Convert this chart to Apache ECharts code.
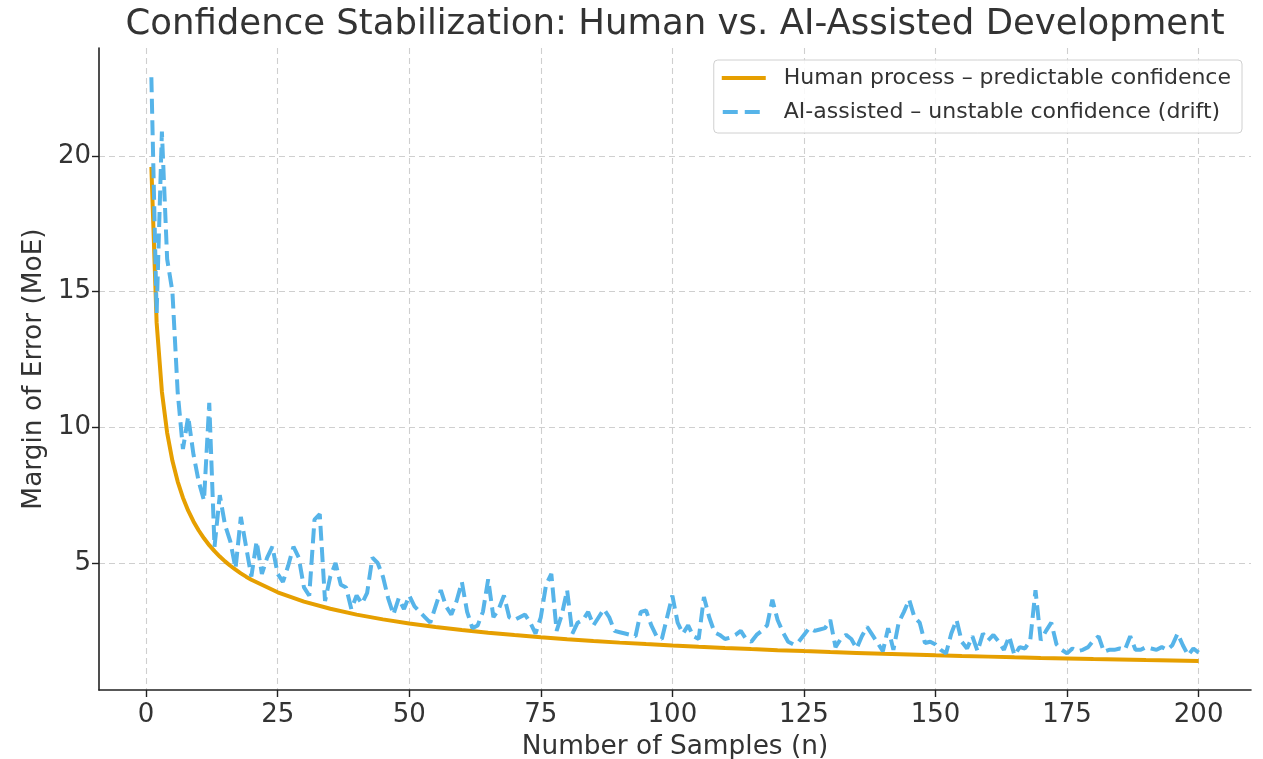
<!DOCTYPE html>
<html>
<head>
<meta charset="utf-8">
<script src="https://cdn.jsdelivr.net/npm/echarts@6/dist/echarts.min.js"></script>
<style>
html,body{margin:0;padding:0;background:#fff;}
#chart{width:1263px;height:759px;}
</style>
</head>
<body>
<div id="chart"></div>
<script>
// ---- data ----
const titleText = 'Confidence Stabilization: Human vs. AI-Assisted Development';
const xAxisTitle = 'Number of Samples (n)';
const yAxisTitle = 'Margin of Error (MoE)';
const humanName = 'Human process \u2013 predictable confidence';
const aiName = 'AI-assisted \u2013 unstable confidence (drift)';

const xTicks = [0, 25, 50, 75, 100, 125, 150, 175, 200];
const yTicks = [5, 10, 15, 20];

// Human process: sample count and margin of error
const humanN = [1,2,3,4,5,6,7,8,9,10,11,12,13,14,15,16,17,18,19,20,
  25,30,35,40,45,50,55,60,65,70,75,80,85,90,95,100,105,110,115,120,
  125,130,135,140,145,150,155,160,165,170,175,180,185,190,195,200];
const humanMoE = [19.6,13.859,11.316,9.8,8.765,8.002,7.408,6.93,6.533,6.198,
  5.91,5.658,5.436,5.238,5.061,4.9,4.754,4.62,4.497,4.383,
  3.92,3.578,3.313,3.099,2.922,2.772,2.643,2.53,2.431,2.343,
  2.263,2.191,2.126,2.066,2.011,1.96,1.913,1.869,1.828,1.789,
  1.753,1.719,1.687,1.656,1.628,1.6,1.574,1.55,1.526,1.503,
  1.482,1.461,1.441,1.422,1.404,1.386];

// AI-assisted: one value per sample n = 1..200
const aiMoE = [
  22.9,14.2,20.9,16.2,15.0,11.3,9.2,10.4,9.0,8.0,
  7.3,10.9,5.6,7.5,6.4,5.8,4.8,6.7,5.6,4.5,
  5.8,4.6,5.2,5.6,4.6,4.3,4.9,5.6,5.2,4.1,
  3.8,6.6,6.8,3.6,4.5,5.0,4.2,4.1,3.3,3.8,
  3.5,3.9,5.2,5.0,4.5,3.7,3.1,3.7,3.3,3.8,
  3.4,3.2,3.0,2.8,3.4,4.0,3.4,3.1,3.6,4.3,
  3.2,2.6,2.7,3.2,4.4,3.0,3.3,3.8,3.0,2.9,
  3.0,3.1,2.8,2.4,3.0,4.2,4.6,2.5,3.1,4.0,
  2.4,2.8,2.9,3.2,2.7,3.0,3.3,3.0,2.5,2.45,
  2.4,2.35,2.3,3.2,3.25,2.7,2.3,2.2,3.0,3.8,
  2.8,2.4,2.7,2.3,2.2,3.75,3.0,2.45,2.35,2.2,
  2.25,2.35,2.5,2.2,2.1,2.35,2.5,2.7,3.65,2.9,
  2.45,2.1,2.0,2.1,2.35,2.6,2.5,2.55,2.6,2.9,
  1.9,2.2,2.35,2.2,1.85,2.3,2.65,2.35,2.05,1.75,
  2.6,1.8,2.8,3.2,3.65,3.0,2.8,2.05,2.1,2.0,
  1.8,1.67,2.4,2.9,2.1,1.85,2.3,1.75,2.4,2.15,
  2.35,2.1,1.8,2.3,1.6,1.9,1.85,2.15,4.0,2.15,
  2.5,2.8,2.0,1.8,1.67,1.85,1.75,1.8,1.9,2.15,
  2.3,1.73,1.8,1.8,1.85,1.8,2.3,1.8,1.8,1.9,
  1.85,1.8,1.9,1.8,1.97,2.4,1.97,1.6,1.85,1.7
];
const aiN = aiMoE.map((_, i) => i + 1);

// ---- chart ----
const FONT = 'DejaVu Sans';
const TEXT = '#333333';
const ORANGE = '#E69F00';
const BLUE = '#56B4E9';
const chart = echarts.init(document.getElementById('chart'), null, {renderer: 'canvas'});

const gridLine = {show: true, lineStyle: {color: '#cfcfcf', width: 1.1, type: [6, 4]}};

// legend handles: solid bar and two dashes (matplotlib style)
const solidIcon = 'path://M0,0h44v4h-44z';
const dashIcon = 'path://M1,0h15v4h-15z M23,0h15v4h-15z M0,0L0,4 M44,0L44,4';

chart.setOption({
  animation: false,
  backgroundColor: '#ffffff',
  title: {
    text: titleText,
    left: 670,
    top: 2,
    textAlign: 'center',
    textStyle: {fontFamily: FONT, fontSize: 35.5, fontWeight: 'normal', color: TEXT}
  },
  legend: {
    orient: 'vertical',
    right: 21,
    top: 60,
    itemWidth: 44,
    itemHeight: 4,
    itemGap: 12,
    padding: [7, 11, 10, 8],
    backgroundColor: 'rgba(255,255,255,0.85)',
    borderColor: '#d0d0d0',
    borderWidth: 1,
    borderRadius: 4,
    textStyle: {fontFamily: FONT, fontSize: 22, color: TEXT, padding: [0, 0, 0, 13], lineHeight: 22},
    data: [
      {name: humanName, icon: solidIcon, itemStyle: {color: ORANGE}},
      {name: aiName, icon: dashIcon, itemStyle: {color: BLUE}}
    ]
  },
  grid: {left: 99, right: 12, top: 48, bottom: 69, containLabel: false, outerBoundsMode: 'none'},
  xAxis: {
    type: 'value',
    min: -8.95,
    max: 209.95,
    name: xAxisTitle,
    nameLocation: 'middle',
    nameGap: 44,
    nameTextStyle: {fontFamily: FONT, fontSize: 26.4, color: TEXT},
    axisLine: {show: true, onZero: false, lineStyle: {color: '#222', width: 1.6}},
    axisTick: {show: true, inside: false, length: 7, customValues: xTicks, lineStyle: {color: '#222', width: 1.4}},
    axisLabel: {customValues: xTicks, fontFamily: FONT, fontSize: 26, color: TEXT, margin: 12},
    splitLine: gridLine
  },
  yAxis: {
    type: 'value',
    min: 0.32,
    max: 23.98,
    name: yAxisTitle,
    nameLocation: 'middle',
    nameGap: 52,
    nameTextStyle: {fontFamily: FONT, fontSize: 26.4, color: TEXT},
    axisLine: {show: true, onZero: false, lineStyle: {color: '#222', width: 1.6}},
    axisTick: {show: true, inside: false, length: 7, customValues: yTicks, lineStyle: {color: '#222', width: 1.4}},
    axisLabel: {customValues: yTicks, fontFamily: FONT, fontSize: 26, color: TEXT, margin: 8},
    splitLine: gridLine
  },
  series: [
    {
      name: humanName,
      type: 'line',
      data: humanN.map((n, i) => [n, humanMoE[i]]),
      symbol: 'none',
      showSymbol: false,
      lineStyle: {color: ORANGE, width: 4},
      itemStyle: {color: ORANGE},
      z: 2
    },
    {
      name: aiName,
      type: 'line',
      data: aiN.map((n, i) => [n, aiMoE[i]]),
      symbol: 'none',
      showSymbol: false,
      lineStyle: {color: BLUE, width: 4, type: [15, 6.5]},
      itemStyle: {color: BLUE},
      z: 3
    }
  ]
});
</script>
</body>
</html>
